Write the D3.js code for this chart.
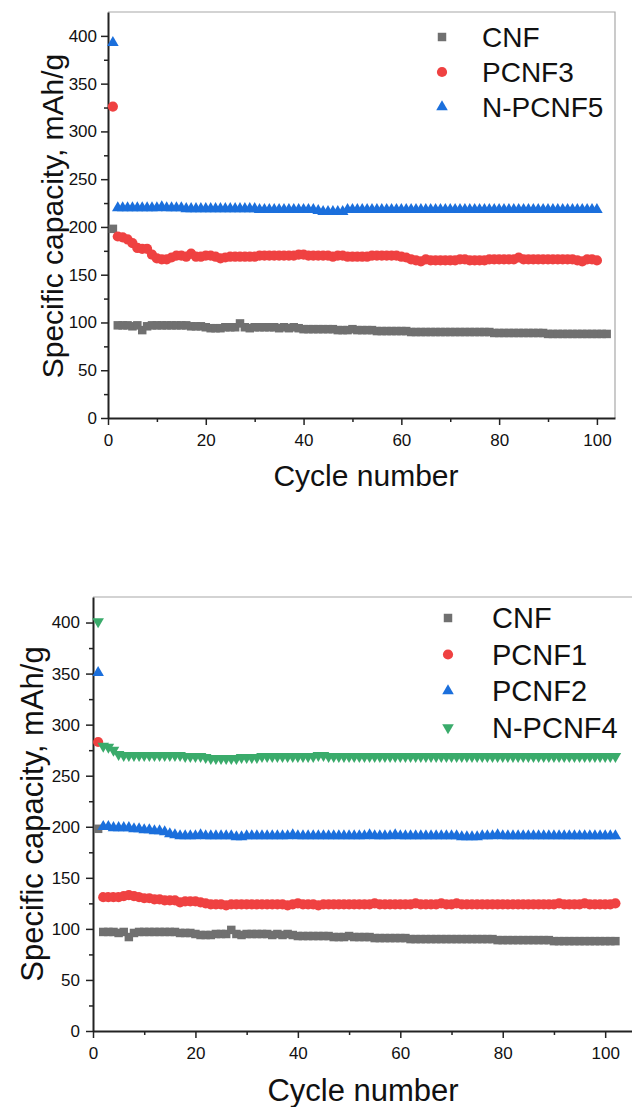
<!DOCTYPE html>
<html>
<head>
<meta charset="utf-8">
<script src="https://cdn.jsdelivr.net/npm/d3@7"></script>
<style>
  body { margin: 0; background: #fff; }
  text { font-family: "Liberation Sans", Arial, sans-serif; fill: #111; }
</style>
</head>
<body>
<svg id="chart" width="632" height="1107"></svg>
<script>
// capacity values, one per cycle (cycle 1 first)
const cnf = [198, 97, 97, 97, 96, 97, 92, 96, 97, 97,
  97, 97, 97, 97, 97, 97, 96, 96, 96, 95,
  94, 94, 94, 95, 95, 95, 99, 95, 94, 95,
  95, 95, 95, 95, 94, 95, 94, 95, 94, 93,
  93, 93, 93, 93, 93, 93, 92, 92, 92, 93,
  92, 92, 92, 92, 91, 91, 91, 91, 91, 91,
  91, 90, 90, 90, 90, 90, 90, 90, 90, 90,
  90, 90, 90, 90, 90, 90, 90, 90, 89, 89,
  89, 89, 89, 89, 89, 89, 89, 89, 89, 88,
  88, 88, 88, 88, 88, 88, 88, 88, 88, 88,
  88, 88]

const pcnf3 = [326, 190, 189, 187, 183, 178, 177, 177, 171, 167,
  166, 166, 168, 170, 170, 169, 172, 169, 169, 170,
  170, 169, 167, 168, 169, 169, 169, 169, 169, 169,
  170, 170, 170, 170, 170, 170, 170, 170, 171, 171,
  170, 170, 170, 170, 170, 169, 170, 170, 169, 169,
  169, 169, 169, 170, 170, 170, 170, 170, 170, 169,
  168, 166, 165, 164, 166, 165, 165, 165, 165, 165,
  165, 166, 166, 165, 165, 165, 165, 166, 166, 166,
  166, 166, 166, 168, 166, 166, 166, 166, 166, 166,
  166, 166, 166, 166, 166, 165, 164, 166, 166, 165]

const npcnf5 = [393, 220, 220, 220, 220, 220, 220, 220, 220, 220,
  221, 220, 220, 220, 220, 219, 219, 219, 219, 219,
  219, 219, 219, 219, 219, 219, 219, 219, 219, 219,
  218, 218, 218, 218, 218, 218, 218, 218, 218, 218,
  218, 218, 217, 216, 216, 216, 216, 216, 218, 218,
  218, 218, 218, 218, 218, 218, 218, 218, 218, 218,
  218, 218, 218, 218, 218, 218, 218, 218, 218, 218,
  218, 218, 218, 218, 218, 218, 218, 218, 218, 218,
  218, 218, 218, 218, 218, 218, 218, 218, 218, 218,
  218, 218, 218, 218, 218, 218, 218, 218, 218, 218]

const pcnf1 = [283, 131, 131, 131, 131, 132, 133, 132, 131, 130,
  130, 129, 129, 128, 128, 128, 126, 127, 127, 127,
  126, 125, 124, 124, 124, 123, 124, 124, 124, 124,
  124, 124, 124, 124, 124, 124, 124, 123, 124, 125,
  124, 124, 124, 123, 124, 124, 124, 124, 124, 124,
  124, 124, 124, 124, 125, 124, 124, 124, 124, 124,
  124, 124, 125, 124, 124, 124, 124, 125, 124, 124,
  125, 124, 124, 124, 124, 124, 124, 124, 124, 124,
  124, 124, 124, 124, 124, 124, 124, 124, 124, 124,
  125, 124, 124, 124, 124, 125, 124, 124, 124, 124,
  124, 125]

const pcnf2 = [351, 200, 200, 199, 199, 199, 199, 198, 198, 197,
  197, 196, 196, 195, 193, 192, 191, 191, 191, 191,
  192, 191, 191, 191, 191, 191, 191, 190, 190, 191,
  191, 191, 191, 191, 191, 191, 191, 191, 192, 191,
  191, 191, 191, 191, 191, 191, 191, 191, 191, 191,
  191, 191, 191, 192, 191, 191, 191, 191, 192, 191,
  191, 191, 191, 191, 191, 191, 191, 191, 191, 191,
  191, 190, 190, 190, 190, 191, 191, 191, 192, 191,
  191, 191, 191, 191, 191, 191, 191, 191, 191, 191,
  191, 191, 191, 191, 191, 191, 191, 191, 191, 191,
  191, 191]

const npcnf4 = [401, 279, 278, 275, 271, 270, 270, 270, 270, 270,
  270, 270, 270, 270, 270, 270, 270, 269, 269, 269,
  269, 268, 267, 267, 267, 267, 267, 267, 268, 268,
  268, 268, 269, 269, 269, 269, 269, 269, 269, 269,
  269, 269, 269, 270, 270, 269, 269, 269, 269, 269,
  269, 269, 269, 269, 269, 269, 269, 269, 269, 269,
  269, 269, 269, 269, 269, 269, 269, 269, 269, 269,
  269, 269, 269, 269, 269, 269, 269, 269, 269, 269,
  269, 269, 269, 269, 269, 269, 269, 269, 269, 269,
  269, 269, 269, 269, 269, 269, 269, 269, 269, 269,
  269, 269]

const yTicks = [0, 50, 100, 150, 200, 250, 300, 350, 400]
const xTicks = [0, 20, 40, 60, 80, 100]

const gray = "#707070", red = "#ef4141", blue = "#1b6fdc", green = "#3aab6b"

const svg = d3.select("#chart")

function marker(kind) {
    if (kind === "square") return {d: d3.symbol(d3.symbolSquare, 72)(), rot: 0}
    if (kind === "circle") return {d: d3.symbol(d3.symbolCircle, 82)(), rot: 0}
    if (kind === "up") return {d: d3.symbol(d3.symbolTriangle, 58)(), rot: 0}
    return {d: d3.symbol(d3.symbolTriangle, 58)(), rot: 180}
}

function drawPanel(p) {
    const g = svg.append("g")

    const x = d3.scaleLinear().domain([0, p.xMax]).range([p.left, p.right])
    const y = d3.scaleLinear().domain([0, 425]).range([p.bottom, p.top])

    // gray frame on top and right
    g.append("path")
        .attr("d", `M${p.left},${p.top}H${p.right}V${p.bottom}`)
        .attr("fill", "none")
        .attr("stroke", "#a8a8a8")
        .attr("stroke-width", 1.2)

    // minor ticks
    g.append("g")
        .attr("transform", `translate(${p.left},0)`)
        .call(d3.axisLeft(y).tickValues(d3.range(25, 425, 50)).tickSize(4).tickFormat(""))
        .call(a => a.select(".domain").remove())
    g.append("g")
        .attr("transform", `translate(0,${p.bottom})`)
        .call(d3.axisBottom(x).tickValues(d3.range(10, 101, 20)).tickSize(4).tickFormat(""))
        .call(a => a.select(".domain").remove())

    const yAxis = g.append("g")
        .attr("transform", `translate(${p.left},0)`)
        .call(d3.axisLeft(y).tickValues(yTicks).tickSizeInner(7).tickSizeOuter(0).tickPadding(p.yPad))
    const xAxis = g.append("g")
        .attr("transform", `translate(0,${p.bottom})`)
        .call(d3.axisBottom(x).tickValues(xTicks).tickSizeInner(7).tickSizeOuter(0).tickPadding(9))

    for (const a of [yAxis, xAxis]) {
        a.select(".domain").attr("stroke", "#222").attr("stroke-width", 2)
        a.selectAll("text").style("font-size", "17px")
            .style("font-family", '"Liberation Sans", Arial, sans-serif').attr("fill", "#111")
    }
    g.selectAll(".tick line").attr("stroke", "#222").attr("stroke-width", 1.5)

    // series
    for (const s of p.series) {
        const m = marker(s.kind)
        g.append("g").selectAll("path")
            .data(s.values)
            .join("path")
            .attr("d", m.d)
            .attr("transform", (d, i) => `translate(${x(i + 1)},${y(d)}) rotate(${m.rot})`)
            .attr("fill", s.color)
    }

    // legend
    p.series.forEach((s, i) => {
        const m = marker(s.kind)
        const cy = p.legY + i * p.legDy
        g.append("path")
            .attr("d", m.d)
            .attr("transform", `translate(${p.legX},${cy}) rotate(${m.rot})`)
            .attr("fill", s.color)
        g.append("text")
            .attr("x", p.legTextX)
            .attr("y", cy + 10)
            .style("font-size", p.legFont + "px")
            .text(s.name)
    })

    // axis titles
    g.append("text")
        .attr("transform", `translate(${p.yTitleX},${p.yTitleY}) rotate(-90)`)
        .attr("text-anchor", "middle")
        .style("font-size", p.titleFont + "px")
        .text("Specific capacity, mAh/g")
    g.append("text")
        .attr("x", p.xTitleX)
        .attr("y", p.xTitleY)
        .attr("text-anchor", "middle")
        .style("font-size", p.titleFont + "px")
        .text("Cycle number")
}

drawPanel({
    left: 108, right: 615, top: 12, bottom: 418, xMax: 103.7, yPad: 4,
    series: [
        {name: "CNF", values: cnf, kind: "square", color: gray},
        {name: "PCNF3", values: pcnf3, kind: "circle", color: red},
        {name: "N-PCNF5", values: npcnf5, kind: "up", color: blue}
    ],
    legX: 442, legTextX: 482, legY: 37, legDy: 35, legFont: 28,
    yTitleX: 63, yTitleY: 216, xTitleX: 366, xTitleY: 486, titleFont: 30
})

drawPanel({
    left: 93, right: 640, top: 597, bottom: 1031, xMax: 106.8, yPad: 6,
    series: [
        {name: "CNF", values: cnf, kind: "square", color: gray},
        {name: "PCNF1", values: pcnf1, kind: "circle", color: red},
        {name: "PCNF2", values: pcnf2, kind: "up", color: blue},
        {name: "N-PCNF4", values: npcnf4, kind: "down", color: green}
    ],
    legX: 448, legTextX: 492, legY: 618, legDy: 36.5, legFont: 29,
    yTitleX: 43, yTitleY: 814, xTitleX: 363, xTitleY: 1101, titleFont: 31
})
</script>
</body>
</html>
